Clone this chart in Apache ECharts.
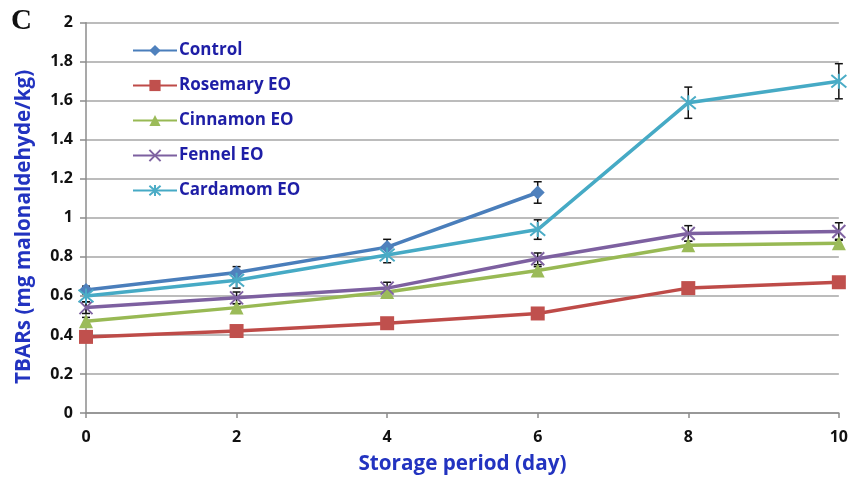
<!DOCTYPE html>
<html>
<head>
<meta charset="utf-8">
<script src="https://cdn.jsdelivr.net/npm/echarts@6/dist/echarts.min.js"></script>
<style>
  html, body { margin: 0; padding: 0; background: #fff; }
  #chart { width: 851px; height: 480px; }
</style>
</head>
<body>
<div id="chart"></div>
<script>
// Storage days (x values)
const days = [0, 2, 4, 6, 8, 10];

// TBARs means (mg malonaldehyde/kg)
const control  = [0.63, 0.72, 0.85, 1.13, null, null];
const rosemary = [0.39, 0.42, 0.46, 0.51, 0.64, 0.67];
const cinnamon = [0.47, 0.54, 0.62, 0.73, 0.86, 0.87];
const fennel   = [0.54, 0.59, 0.64, 0.79, 0.92, 0.93];
const cardamom = [0.60, 0.68, 0.81, 0.94, 1.59, 1.70];

// Standard deviations (error bars)
const controlErr  = [0.02, 0.03, 0.04, 0.055, null, null];
const rosemaryErr = [0.01, 0.01, 0.01, 0.01, 0.01, 0.01];
const cinnamonErr = [0.02, 0.02, 0.02, 0.02, 0.02, 0.02];
const fennelErr   = [0.03, 0.03, 0.03, 0.03, 0.04, 0.045];
const cardamomErr = [0.03, 0.04, 0.04, 0.05, 0.08, 0.09];

const seriesNames = ['Control', 'Rosemary EO', 'Cinnamon EO', 'Fennel EO', 'Cardamom EO'];
const yTicks = [0, 0.2, 0.4, 0.6, 0.8, 1, 1.2, 1.4, 1.6, 1.8, 2];

const lineColors   = ['#4A7EBB', '#BE4B48', '#98B954', '#7D60A0', '#46AAC5'];
const markerColors = ['#4F81BD', '#C0504D', '#9BBB59', '#8064A2', '#4BACC6'];

const FONT = '"Open Sans"';

const xMark = 'path://M0,0 L10,10 M10,0 L0,10';
const starMark = 'path://M0,0 L10,10 M10,0 L0,10 M5,-1 L5,11';

const markers = [
  { symbol: 'diamond', size: 14, filled: true },
  { symbol: 'rect', size: 14, filled: true },
  { symbol: 'triangle', size: 14, filled: true },
  { symbol: xMark, size: 13, filled: false },
  { symbol: starMark, size: 15, filled: false }
];

const values = [control, rosemary, cinnamon, fennel, cardamom];
const errors = [controlErr, rosemaryErr, cinnamonErr, fennelErr, cardamomErr];

function pairs(vals) {
  return days.map((d, i) => [d, vals[i]]).filter(p => p[1] !== null);
}
function errTriples(vals, errs) {
  return days.map((d, i) => [d, vals[i], errs[i]]).filter(p => p[1] !== null && p[2] !== null);
}

function renderErr(params, api) {
  const x = api.value(0), y = api.value(1), e = api.value(2);
  const top = api.coord([x, y + e]);
  const bot = api.coord([x, y - e]);
  const w = 4;
  const st = { stroke: '#111', lineWidth: 1.5 };
  return {
    type: 'group',
    children: [
      { type: 'line', shape: { x1: top[0], y1: top[1], x2: bot[0], y2: bot[1] }, style: st },
      { type: 'line', shape: { x1: top[0] - w, y1: top[1], x2: top[0] + w, y2: top[1] }, style: st },
      { type: 'line', shape: { x1: bot[0] - w, y1: bot[1], x2: bot[0] + w, y2: bot[1] }, style: st }
    ]
  };
}

const series = [];
values.forEach((vals, k) => {
  series.push({
    type: 'custom',
    renderItem: renderErr,
    data: errTriples(vals, errors[k]),
    encode: { x: 0, y: 1 },
    silent: true,
    z: 2
  });
});
values.forEach((vals, k) => {
  const m = markers[k];
  series.push({
    name: seriesNames[k],
    type: 'line',
    data: pairs(vals),
    symbol: m.symbol,
    symbolSize: m.size,
    showAllSymbol: true,
    lineStyle: { color: lineColors[k], width: 3.5 },
    itemStyle: m.filled
      ? { color: markerColors[k], borderColor: markerColors[k], borderWidth: 0 }
      : { color: markerColors[k], borderColor: markerColors[k], borderWidth: 2 },
    emphasis: { disabled: true },
    z: 3
  });
});

const chart = echarts.init(document.getElementById('chart'), null, { renderer: 'canvas' });
chart.setOption({
  animation: false,
  backgroundColor: '#fff',
  textStyle: { fontFamily: FONT },
  grid: { left: 86, right: 12, top: 22.7, bottom: 61, containLabel: false },
  graphic: [{
    type: 'text',
    left: 11, top: 7,
    style: { text: 'C', font: 'bold 29px "Liberation Serif", "DejaVu Serif", serif', fill: '#111' }
  }],
  legend: {
    orient: 'vertical',
    left: 127, top: 37,
    itemWidth: 44, itemHeight: 14,
    itemGap: 18,
    data: seriesNames,
    textStyle: { color: '#1E1EA6', fontFamily: FONT, fontWeight: 'bold', fontSize: 17, lineHeight: 14, padding: [0, 0, 0, -3] }
  },
  xAxis: {
    type: 'value',
    min: 0, max: 10, interval: 2,
    name: 'Storage period (day)',
    nameLocation: 'middle',
    nameGap: 41,
    nameTextStyle: { color: '#2233C0', fontFamily: FONT, fontWeight: 'bold', fontSize: 20.7 },
    axisLine: { show: true, lineStyle: { color: '#8c8c8c', width: 1.5 } },
    axisTick: { show: true, length: 5, lineStyle: { color: '#8c8c8c', width: 1.5 } },
    axisLabel: { color: '#111', fontFamily: FONT, fontWeight: 'bold', fontSize: 16, margin: 16 },
    splitLine: { show: false }
  },
  yAxis: {
    type: 'value',
    min: 0, max: 2, interval: 0.2,
    name: 'TBARs (mg malonaldehyde/kg)',
    nameLocation: 'middle',
    nameGap: 51,
    nameTextStyle: { color: '#2233C0', fontFamily: FONT, fontWeight: 'bold', fontSize: 20.7, padding: [0, 18, 0, 0] },
    axisLine: { show: true, lineStyle: { color: '#8c8c8c', width: 1.5 } },
    axisTick: { show: true, length: 6, lineStyle: { color: '#8c8c8c', width: 1.5 } },
    axisLabel: {
      color: '#111', fontFamily: FONT, fontWeight: 'bold', fontSize: 16, margin: 13,
      formatter: v => {
        const t = yTicks.find(s => Math.abs(s - v) < 1e-9);
        return String(t !== undefined ? t : v);
      }
    },
    splitLine: { show: true, lineStyle: { color: '#a6a6a6', width: 1.5 } }
  },
  series: series
});
</script>
</body>
</html>
